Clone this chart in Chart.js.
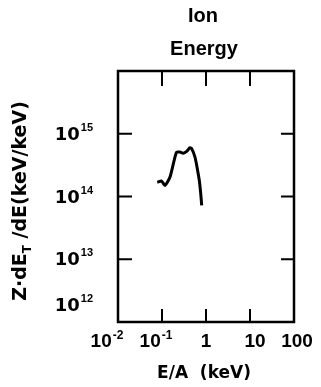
<!DOCTYPE html>
<html lang="en">
<head>
    <meta charset="UTF-8">
    <title>Ion Energy</title>
    <style>
        body { margin: 0; background: #fff; }
        #chart { display: block; }
    </style>
</head>
<body>
<canvas id="chart" width="321" height="387"></canvas>

<script src="https://cdn.jsdelivr.net/npm/chart.js@4.4.1/dist/chart.umd.min.js"></script>
<script>
    // data (E/A in keV, Z*dE_T/dE in keV/keV)
    const energy = [0.078, 0.098, 0.117, 0.152, 0.197, 0.216, 0.257, 0.305, 0.364, 0.433, 0.473, 0.562, 0.615, 0.705, 0.758, 0.798];
    const spectrum = [1.69e14, 1.76e14, 1.5e14, 2.04e14, 4.25e14, 5.1e14, 5.1e14, 4.9e14, 5.25e14, 6.0e14, 5.8e14, 4.25e14, 3.13e14, 1.8e14, 1.12e14, 7.2e13];

    const xTicks = [0.01, 0.1, 1, 10, 100];
    const xLabels = [['10', '-2'], ['10', '-1'], ['1', ''], ['10', ''], ['100', '']];
    const yTicks = [1e12, 1e13, 1e14, 1e15];
    const yLabels = [['10', '12'], ['10', '13'], ['10', '14'], ['10', '15']];

    const WIDE = '"DejaVu Sans", Verdana, sans-serif';
    const NARROW = '"Liberation Sans", Arial, sans-serif';

    // label with raised exponent
    function drawPower(ctx, base, exp, x, y, align, baseFont, expFont, rise) {
        ctx.font = baseFont;
        const wb = ctx.measureText(base).width;
        ctx.font = expFont;
        const we = exp ? ctx.measureText(exp).width + 1 : 0;
        let left = x;
        if (align === 'center') left = x - (wb + we) / 2;
        if (align === 'right') left = x - (wb + we);
        ctx.textAlign = 'left';
        ctx.textBaseline = 'alphabetic';
        ctx.font = baseFont;
        ctx.fillText(base, left, y);
        if (exp) {
            ctx.font = expFont;
            ctx.fillText(exp, left + wb + 1, y - rise);
        }
    }

    const framePlugin = {
        id: 'frame',
        afterDraw(chart) {
            const ctx = chart.ctx;
            const a = chart.chartArea;
            const xs = chart.scales.x, ys = chart.scales.y;
            ctx.save();
            ctx.strokeStyle = '#000';
            ctx.fillStyle = '#000';
            ctx.lineWidth = 2.5;
            ctx.strokeRect(a.left, a.top, a.right - a.left, a.bottom - a.top);

            // inward ticks
            ctx.lineWidth = 2;
            ctx.beginPath();
            xTicks.slice(1, -1).forEach(v => {
                const px = xs.getPixelForValue(v);
                ctx.moveTo(px, a.bottom); ctx.lineTo(px, a.bottom - 13);
                ctx.moveTo(px, a.top); ctx.lineTo(px, a.top + 15);
            });
            yTicks.slice(1).forEach(v => {
                const py = ys.getPixelForValue(v);
                ctx.moveTo(a.left, py); ctx.lineTo(a.left + 14, py);
                ctx.moveTo(a.right, py); ctx.lineTo(a.right - 13, py);
            });
            ctx.stroke();

            // x tick labels
            const xShift = [-11, -6, 0, 5, 3];
            xTicks.forEach((v, i) => {
                drawPower(ctx, xLabels[i][0], xLabels[i][1], xs.getPixelForValue(v) + xShift[i], 347, 'center',
                    'bold 19px ' + NARROW, 'bold 12px ' + NARROW, 8);
            });
            // y tick labels (10^12 sits above the bottom edge)
            yTicks.forEach((v, i) => {
                let py = ys.getPixelForValue(v) + 6;
                if (i === 0) py = a.bottom - 11;
                drawPower(ctx, yLabels[i][0], yLabels[i][1], 93, py, 'right',
                    'bold 18px ' + WIDE, 'bold 11px ' + NARROW, 9);
            });

            // title
            ctx.textAlign = 'center';
            ctx.textBaseline = 'alphabetic';
            ctx.font = 'bold 20px ' + NARROW;
            ctx.fillText('Ion', 203, 22);
            ctx.fillText('Energy', 204, 55);

            // x axis title
            ctx.font = 'bold 17px ' + WIDE;
            ctx.fillText('E/A  (keV)', 204, 378);

            // y axis title, rotated, with subscript T
            ctx.save();
            ctx.translate(26, 201);
            ctx.rotate(-Math.PI / 2);
            const p1 = 'Z\u00B7dE', p3 = ' /dE(keV/keV)';
            ctx.font = 'bold 19px ' + WIDE;
            const w1 = ctx.measureText(p1).width;
            const w3 = ctx.measureText(p3).width;
            ctx.font = 'bold 12px ' + WIDE;
            const w2 = ctx.measureText('T').width;
            const start = -(w1 + w2 + w3) / 2;
            ctx.textAlign = 'left';
            ctx.font = 'bold 19px ' + WIDE;
            ctx.fillText(p1, start, 0);
            ctx.fillText(p3, start + w1 + w2, 0);
            ctx.font = 'bold 12px ' + WIDE;
            ctx.fillText('T', start + w1, 5);
            ctx.restore();

            ctx.restore();
        }
    };

    new Chart(document.getElementById('chart'), {
        type: 'scatter',
        data: {
            datasets: [{
                data: energy.map((e, i) => ({ x: e, y: spectrum[i] })),
                showLine: true,
                borderColor: '#000',
                borderWidth: 3,
                pointRadius: 0,
                tension: 0.2,
                fill: false
            }]
        },
        options: {
            responsive: false,
            animation: false,
            devicePixelRatio: 1,
            layout: { padding: { left: 118, right: 27, top: 71, bottom: 65 } },
            plugins: { legend: { display: false }, tooltip: { enabled: false } },
            scales: {
                x: { type: 'logarithmic', min: 0.01, max: 100, display: false },
                y: { type: 'logarithmic', min: 1e12, max: 1e16, display: false }
            }
        },
        plugins: [framePlugin]
    });
</script>
</body>
</html>
